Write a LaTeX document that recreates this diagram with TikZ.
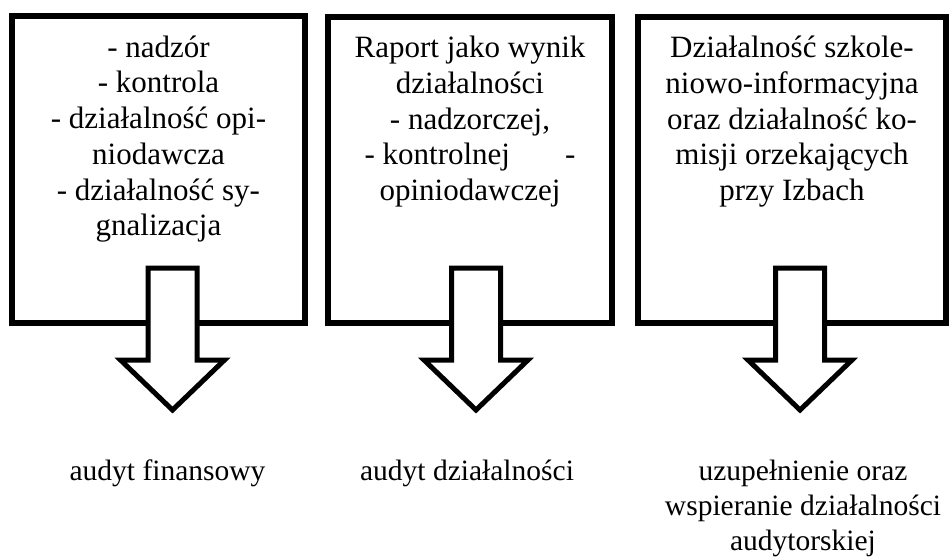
\documentclass[tikz,border=0pt]{standalone}
\usepackage{fontspec}
\setmainfont{Liberation Serif}
\usetikzlibrary{positioning}

\begin{document}
\begin{tikzpicture}[x=1pt,y=-1pt,
    box/.style={rectangle, draw, line width=5.5pt, inner sep=0pt, outer sep=0pt},
    boxtext/.style={align=center, inner sep=0pt, font=\fontsize{31}{35.7}\selectfont},
    result/.style={align=center, inner sep=0pt, font=\fontsize{29.5}{35}\selectfont},
    blockarrow/.style={draw, fill=white, line width=5pt}]
  \useasboundingbox (0,0) rectangle (949,559);
  % boxes
  \node[box, minimum width=293pt, minimum height=307pt] (b1) at (158.5,169.5) {};
  \node[box, minimum width=284pt, minimum height=306pt] (b2) at (470,170) {};
  \node[box, minimum width=308pt, minimum height=306pt] (b3) at (792,170) {};
  \node[boxtext, below=19.5pt of b1.north] (t1) {- nadzór\\- kontrola\\- działalność opi-\\niodawcza\\- działalność sy-\\gnalizacja};
  \node[boxtext, below=19pt of b2.north] (t2) {Raport jako wynik\\działalności\\- nadzorczej,\\- kontrolnej\hspace{55pt}-\\opiniodawczej};
  \node[boxtext, below=19pt of b3.north] (t3) {Działalność szkole-\\niowo-informacyjna\\oraz działalność ko-\\misji orzekających\\przy Izbach};
  % arrows
  \foreach \i/\x in {1/172.5,2/476,3/800}{
    \coordinate (top\i) at (\x,268);
    \coordinate (tip\i) at (\x,410);
    \draw[blockarrow] (top\i) ++(-24.5,0) -- ++(49,0) -- ++(0,92) -- ++(27.5,0)
      -- (tip\i) -- ++(-52,-50) -- ++(27.5,0) -- cycle;
  }
  % results
  \node[result, below=50pt of tip1, xshift=-5pt] (r1) {audyt finansowy};
  \node[result, below=50pt of tip2, xshift=-9pt] (r2) {audyt działalności};
  \node[result, below=50pt of tip3, xshift=3pt] (r3) {uzupełnienie oraz\\wspieranie działalności\\audytorskiej};
\end{tikzpicture}
\end{document}
